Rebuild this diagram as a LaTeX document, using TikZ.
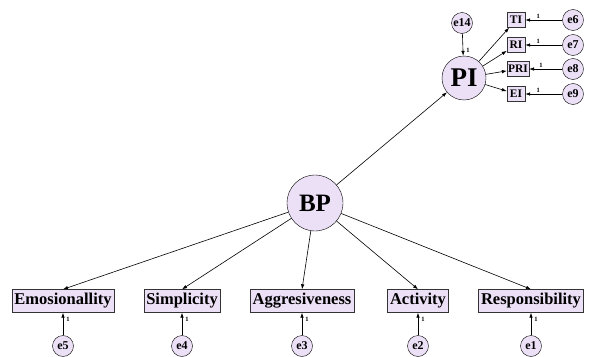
\documentclass[tikz,border=0pt]{standalone}
\usepackage{fontspec}
\setmainfont{Liberation Serif}
\usetikzlibrary{arrows.meta}
\definecolor{lav}{RGB}{236,224,246}
\begin{document}
\begin{tikzpicture}
[x=1pt, y=-1pt,
 latent/.style={circle, draw=black, fill=lav, inner sep=0pt, font=\fontsize{25}{25}\selectfont\bfseries},
 err/.style={circle, draw=black, fill=lav, inner sep=0pt, minimum size=21pt, font=\fontsize{12}{12}\selectfont\bfseries},
 obs/.style={rectangle, draw=black!80, fill=lav, minimum height=23pt, inner sep=2.5pt, font=\fontsize{16.5}{16.5}\selectfont\bfseries},
 small/.style={rectangle, draw=black!80, fill=lav, minimum height=15pt, minimum width=18pt, inner sep=1pt, font=\fontsize{11.5}{11.5}\selectfont\bfseries},
 arr/.style={-{Latex[length=5pt,width=3.5pt]}, line width=0.6pt},
 one/.style={font=\fontsize{6.5}{6.5}\selectfont\bfseries, inner sep=1pt},
]
\useasboundingbox (0,0) rectangle (591,356);

%latent variables
\node[latent, minimum size=56pt] (bp) at (315,203) {BP};
\node[latent, minimum size=44pt, font=\fontsize{27}{27}\selectfont\bfseries] (pi) at (464,78) {PI};

%PI indicators
\node[small] (ti)  at (516,20) {TI};
\node[small] (ri)  at (516,45) {RI};
\node[small] (pri) at (518,69) {PRI};
\node[small] (ei)  at (516,94) {EI};

\node[err] (e14) at (462,23) {e14};
\node[err] (e6) at (573,20) {e6};
\node[err] (e7) at (573,45) {e7};
\node[err] (e8) at (573,69) {e8};
\node[err] (e9) at (573,94) {e9};

%BP indicators
\node[obs] (emo) at (63,301)  {Emosionallity};
\node[obs] (sim) at (182,301) {Simplicity};
\node[obs] (agg) at (302,301) {Aggresiveness};
\node[obs] (act) at (418,301) {Activity};
\node[obs] (res) at (531,301) {Responsibility};

\node[err] (e5) at (63,346)  {e5};
\node[err] (e4) at (182,346) {e4};
\node[err] (e3) at (302,346) {e3};
\node[err] (e2) at (418,346) {e2};
\node[err] (e1) at (531,346) {e1};

%paths
\draw[arr] (bp) -- (pi);
\draw[arr] (pi) -- (ti);
\draw[arr] (pi) -- (ri);
\draw[arr] (pi) -- (pri);
\draw[arr] (pi) -- (ei);
\draw[arr] (e14) -- node[one, right, xshift=2pt, pos=0.75] {1} (pi);

\draw[arr] (e6) -- node[one, above, xshift=2pt, pos=0.7] {1} (ti);
\draw[arr] (e7) -- node[one, above, xshift=2pt, pos=0.7] {1} (ri);
\draw[arr] (e8) -- node[one, above, xshift=2pt, pos=0.7] {1} (pri);
\draw[arr] (e9) -- node[one, above, xshift=2pt, pos=0.7] {1} (ei);

\draw[arr] (bp) -- (emo.north);
\draw[arr] (bp) -- (sim.north);
\draw[arr] (bp) -- (agg.north);
\draw[arr] (bp) -- (act.north);
\draw[arr] (bp) -- (res.north);

\draw[arr] (e5) -- node[one, right, xshift=2pt, pos=0.7] {1} (emo);
\draw[arr] (e4) -- node[one, right, xshift=2pt, pos=0.7] {1} (sim);
\draw[arr] (e3) -- node[one, right, xshift=2pt, pos=0.7] {1} (agg);
\draw[arr] (e2) -- node[one, right, xshift=2pt, pos=0.7] {1} (act);
\draw[arr] (e1) -- node[one, right, xshift=2pt, pos=0.7] {1} (res);

\end{tikzpicture}
\end{document}
